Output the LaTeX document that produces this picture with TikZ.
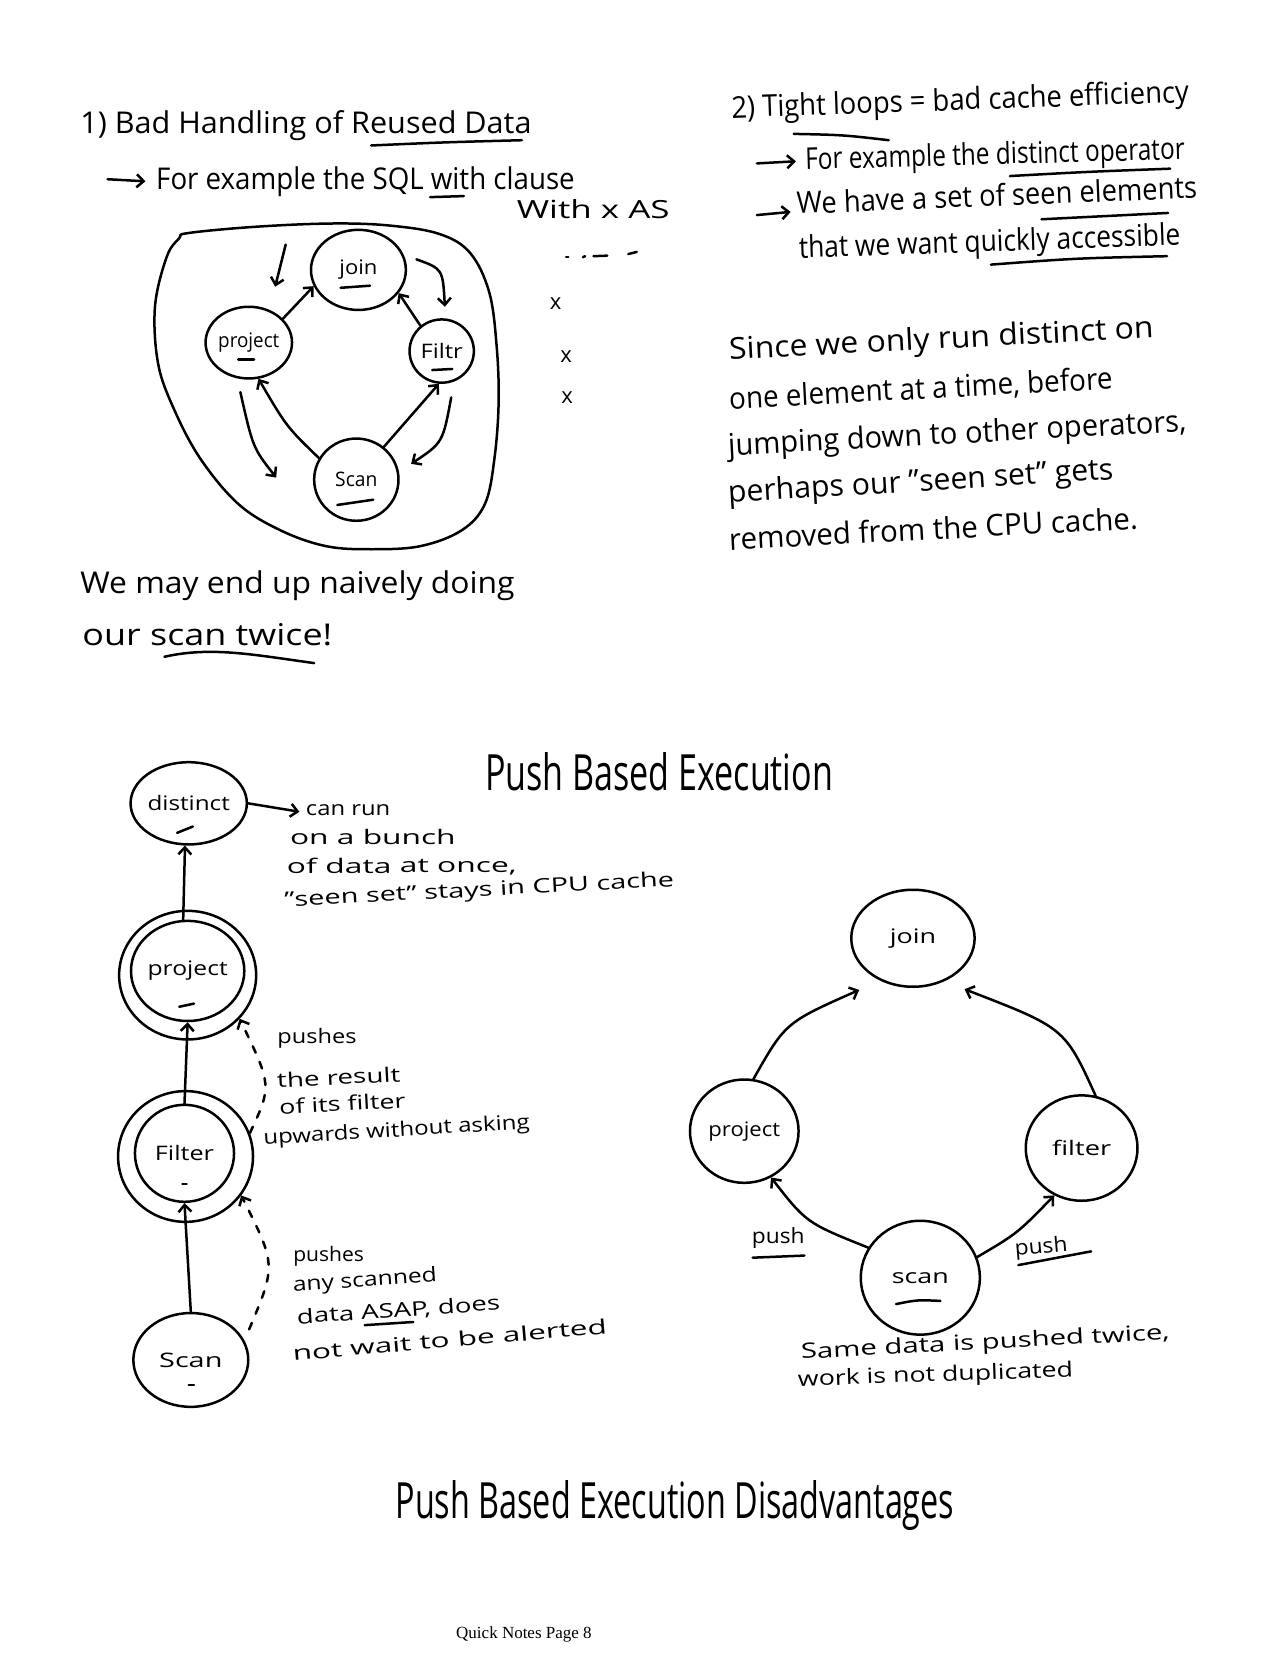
\documentclass[tikz,border=0pt]{standalone}
\usepackage{fontspec}
\setmainfont{Open Sans}
\newfontfamily\footfont{Liberation Serif}
\usetikzlibrary{arrows.meta,shapes.geometric,calc}
\newcommand\hw[2]{\resizebox{\dimexpr #1pt*10546/10000\relax}{\height}{#2}}
\begin{document}
\begin{tikzpicture}[x=1.0546pt,y=-1.0546pt,
  ink/.style={line width=2.5pt, line cap=round, line join=round},
  arr/.style={ink, -{Straight Barb[length=7pt,width=13pt]}},
  sz/.style 2 args={minimum width=#1*1.0546pt, minimum height=#2*1.0546pt},
  opn/.style={ellipse, draw, ink, inner sep=0pt, font=\fontsize{20}{24}\selectfont},
  tx/.style={anchor=base west, inner sep=0pt, font=\fontsize{30}{36}\selectfont},
  txs/.style={anchor=base west, inner sep=0pt, font=\fontsize{20}{24}\selectfont},
  ttl/.style={anchor=base west, inner sep=0pt, font=\fontsize{50}{60}\selectfont}]
\useasboundingbox (0,0) rectangle (1209,1568);
\fill[white] (0,0) rectangle (1209,1568);

% ---------- Section 1 ----------
\node[tx] (t1) at (76,127) {\hw{428}{1) Bad Handling of Reused Data}};
\draw[ink] (352,138) .. controls (420,135) .. (495,133);
\coordinate (a1s) at (102,170); \coordinate (a1e) at (138,172);
\draw[arr] (a1s) -- (a1e);
\node[tx] (t2) at (148,180) {\hw{397}{For example the SQL with clause}};
\draw[ink] (408,187) -- (440,186);
\node[txs, font=\fontsize{25}{30}\selectfont] (t3) at (490,207) {\hw{145}{With x AS}};
\draw[ink] (537,244) -- (539,244);
\draw[ink] (553,244) -- (555,243);
\draw[ink] (563,243) -- (576,242.5);
\draw[ink] (596,241) -- (604,239);
\node[txs, anchor=center, font=\fontsize{22}{26}\selectfont] (x1) at (527,288) {x};
\node[txs, anchor=center, font=\fontsize{22}{26}\selectfont] (x2) at (537,338) {x};
\node[txs, anchor=center, font=\fontsize{22}{26}\selectfont] (x3) at (538,377) {x};

\draw[ink] plot[smooth cycle, tension=0.6] coordinates {
 (179,221) (244,215) (316,212) (370,214) (417,222) (446,240) (464,277)
 (471,327) (473,381) (469,435) (460,478) (438,503) (399,518) (352,521)
 (309,518) (266,503) (226,478) (190,435) (165,388) (150,345) (147,291)
 (158,244) (170,226)};

\node[opn, sz={90}{76}] (j1) at (340,256) {\raisebox{4pt}{\hw{36}{join}}};
\node[opn, sz={75}{68}] (p1) at (236,325) {\raisebox{4pt}{\hw{58}{project}}};
\node[opn, sz={61}{60}] (f1) at (419,333) {\hw{40}{Filtr}};
\node[opn, sz={80}{78}] (s1) at (338,455) {\hw{40}{Scan}};
\draw[ink] (323,273) -- (351,271);
\draw[ink] (226,341) -- (241,341);
\draw[ink] (410,351) -- (429,350);
\draw[ink] (320,479) -- (354,474);

\draw[arr] (p1.35) -- (j1.200);
\draw[arr] (f1.130) -- (j1.330);
\draw[arr] (s1.150) .. controls (272,405) .. (p1.285);
\draw[arr] (s1.50) -- (f1.265);
\coordinate (fa1) at (271,232); \coordinate (fa2) at (261,272);
\coordinate (fb1) at (395,246); \coordinate (fb2) at (422,291);
\coordinate (fc1) at (228,372); \coordinate (fc2) at (262,453);
\coordinate (fd1) at (428,377); \coordinate (fd2) at (390,440);
\draw[arr] (fa1) -- (fa2);
\draw[arr] (fb1) .. controls (420,255) .. (fb2);
\draw[arr] (fc1) .. controls (240,425) .. (fc2);
\draw[arr] (fd1) .. controls (420,420) .. (fd2);

\node[tx] (t4) at (76,563) {\hw{412}{We may end up naively doing}};
\node[tx] (t5) at (78,612) {\hw{237}{our scan twice!}};
\draw[ink] (156,623) .. controls (200,613) and (240,621) .. (298,629);

% ---------- Section 2 ----------
\node[tx, rotate=2] (u1) at (694,112) {\hw{434}{2) Tight loops = bad cache efficiency}};
\draw[ink] (753,127) .. controls (800,128) .. (843,133);
\coordinate (a2s) at (718,155); \coordinate (a2e) at (755,153);
\draw[arr] (a2s) -- (a2e);
\node[tx, rotate=1.6] (u2) at (764,161) {\hw{360}{For example the distinct operator}};
\draw[ink] (958,167) .. controls (1030,163) .. (1110,160);
\coordinate (a3s) at (718,204); \coordinate (a3e) at (750,201);
\draw[arr] (a3s) -- (a3e);
\node[tx, rotate=2.3] (u3) at (756,203) {\hw{380}{We have a set of seen elements}};
\draw[ink] (988,208) -- (1108,202);
\node[tx, rotate=2] (u4) at (758,245) {\hw{362}{that we want quickly accessible}};
\draw[ink] (940,251) .. controls (1020,245) .. (1107,243);

\node[tx, rotate=2.9] (v1) at (692,341) {\hw{403}{Since we only run distinct on}};
\node[tx, rotate=3] (v2) at (692,388) {\hw{364}{one element at a time, before}};
\node[tx, rotate=3] (v3) at (691,432) {\hw{435}{jumping down to other operators,}};
\node[tx, rotate=3.5] (v4) at (691,477) {\hw{366}{perhaps our "seen set" gets}};
\node[tx, rotate=3] (v5) at (692,522) {\hw{388}{removed from the CPU cache.}};

% ---------- Section 3 ----------
\node[ttl] (h1) at (460,750) {\hw{330}{Push Based Execution}};

\node[opn, sz={103}{78}] (d3) at (179,762) {\hw{78}{distinct}};
\draw[ink] (168,790) -- (183,784);
\node[opn, sz={105}{95}] (pr3) at (178,921) {\raisebox{6pt}{\hw{76}{project}}};
\node[opn, sz={130}{122}] (pro) at (178,925) {};
\draw[ink] (170,955) -- (184,952);
\node[opn, sz={94}{92}] (fi3) at (175,1094) {\hw{56}{Filter}};
\node[opn, sz={128}{124}] (fio) at (176,1097) {};
\draw[ink] (173,1123) -- (177,1123);
\node[opn, sz={109}{89}] (sc3) at (181,1290) {\hw{60}{Scan}};
\draw[ink] (179,1314) -- (184,1314);

\coordinate (cr) at (284,770);
\draw[arr] (d3.east) -- (cr);
\draw[arr] (pr3.95) -- (d3.265);
\draw[arr] (fi3.north) -- (pr3.south);
\draw[arr] (sc3.north) -- (fi3.south);
\draw[arr, dash pattern=on 7pt off 10pt] (fio.20) .. controls (258,1030) .. (pro.-40);
\draw[arr, dash pattern=on 7pt off 10pt, shorten <=12pt] (sc3.20) .. controls (262,1200) .. (fio.-35);

\node[txs] (c1) at (290,774) {\hw{80}{can run}};
\node[txs] (c2) at (275,801) {\hw{157}{on a bunch}};
\node[txs, rotate=0.5] (c3) at (272,829) {\hw{218}{of data at once,}};
\node[txs, rotate=3] (c4) at (270,860) {\hw{370}{"seen set" stays in CPU cache}};
\node[txs] (e1) at (263,990) {\hw{75}{pushes}};
\node[txs, rotate=3] (e2) at (263,1032) {\hw{117}{the result}};
\node[txs, rotate=3] (e3) at (265,1057) {\hw{120}{of its filter}};
\node[txs, rotate=3.5] (e4) at (250,1086) {\hw{253}{upwards without asking}};
\node[txs] (g1) at (278,1197) {\hw{67}{pushes}};
\node[txs, rotate=4] (g2) at (278,1225) {\hw{137}{any scanned}};
\node[txs, rotate=4] (g3) at (282,1256) {\hw{193}{data ASAP, does}};
\node[txs, rotate=5] (g4) at (278,1291) {\hw{299}{not wait to be alerted}};
\draw[ink] (346,1257) -- (392,1254);

% right graph
\node[opn, sz={117}{92}] (rj) at (866,890) {\hw{44}{join}};
\node[opn, sz={103}{98}] (rp) at (706,1073) {\hw{68}{project}};
\node[opn, sz={106}{100}] (rf) at (1026,1089) {\hw{56}{filter}};
\node[opn, sz={113}{108}] (rs) at (873,1212) {\hw{54}{scan}};
\draw[ink] (850,1237) .. controls (870,1233) .. (892,1234);
\draw[arr] (rp.80) .. controls (745,970) .. ($(rj.225)+(-14,12)$);
\draw[arr] (rf.75) .. controls (1010,975) .. ($(rj.320)+(8,14)$);
\draw[arr] (rs.150) .. controls (765,1160) .. (rp.300);
\draw[arr] (rs.20) .. controls (965,1170) .. (rf.240);
\node[txs, font=\fontsize{21}{26}\selectfont] (q1) at (713,1180) {\hw{50}{push}};
\draw[ink] (714,1193) -- (763,1191);
\node[txs, font=\fontsize{21}{26}\selectfont, rotate=5] (q2) at (963,1191) {\hw{50}{push}};
\draw[ink] (966,1200) -- (1035,1187);
\node[txs, font=\fontsize{21}{26}\selectfont, rotate=3] (q3) at (760,1289) {\hw{350}{Same data is pushed twice,}};
\node[txs, font=\fontsize{21}{26}\selectfont, rotate=2] (q4) at (757,1315) {\hw{261}{work is not duplicated}};

% bottom
\node[ttl] (h2) at (375,1440) {\hw{530}{Push Based Execution Disadvantages}};
\node[inner sep=0pt, font=\footfont\fontsize{17}{20}\selectfont] (ft) at (497,1550) {Quick Notes Page 8};
\end{tikzpicture}
\end{document}
